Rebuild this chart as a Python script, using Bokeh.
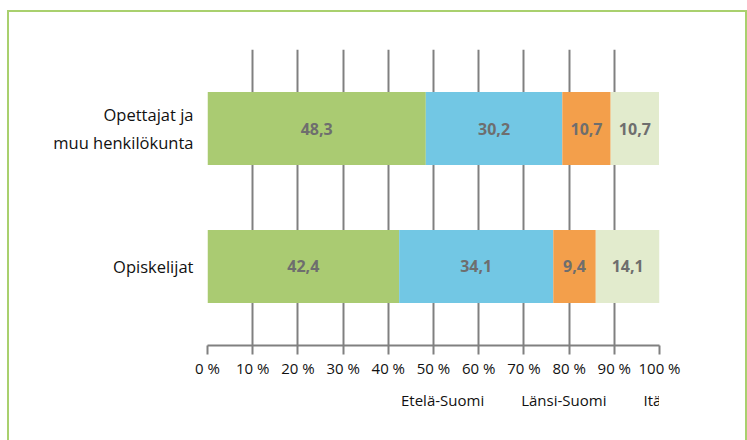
from bokeh.plotting import figure
from bokeh.layouts import column
from bokeh.models import ColumnDataSource, FactorRange, Range1d, Legend, LegendItem, FixedTicker
from bokeh.core.properties import value
from bokeh.embed import file_html
from bokeh.resources import INLINE

categories = ["Opiskelijat", "Opettajat ja\nmuu henkilökunta"]
regions = ["Etelä-Suomi", "Länsi-Suomi", "Itä-Suomi", "Pohjois-Suomi"]
etela = [42.4, 48.3]
lansi = [34.1, 30.2]
ita = [9.4, 10.7]
pohjois = [14.1, 10.7]
colors = ["#aacb72", "#72c7e4", "#f39f4b", "#e2ebcd"]
ticks = [0, 10, 20, 30, 40, 50, 60, 70, 80, 90, 100]
tick_labels = ["0 %", "10 %", "20 %", "30 %", "40 %", "50 %", "60 %", "70 %", "80 %", "90 %", "100 %"]

FONT = "Open Sans"
series = [etela, lansi, ita, pohjois]

data = {"cat": categories}
for r, s in zip(regions, series):
    data[r] = s
source = ColumnDataSource(data)

p = figure(
    width=736, height=368,
    y_range=FactorRange(*categories, range_padding=0.0725, range_padding_units="absolute", factor_padding=0),
    x_range=Range1d(0, 100),
    output_backend="svg", toolbar_location=None,
    min_border_left=198, min_border_right=86, min_border_top=37, min_border_bottom=35,
)

p.hbar_stack(regions, y="cat", height=0.53, color=colors, source=source, line_width=0)

# value labels at segment centers
lab_x, lab_y, lab_t = [], [], []
for i, cat in enumerate(categories):
    cum = 0.0
    for s in series:
        v = s[i]
        lab_x.append(cum + v / 2)
        lab_y.append(cat)
        lab_t.append(f"{v:.1f}".replace(".", ","))
        cum += v
p.text(x=lab_x, y=lab_y, text=lab_t, text_align="center", text_baseline="middle",
       text_font=value(FONT), text_font_style="bold", text_font_size="16px", text_color="#6e6e6e")

p.outline_line_color = None
p.ygrid.grid_line_color = None
p.xgrid.grid_line_color = "#808080"
p.xgrid.grid_line_width = 2
p.xgrid.ticker = FixedTicker(ticks=ticks)
p.xgrid.level = "underlay"

xa = p.xaxis[0]
xa.ticker = FixedTicker(ticks=ticks)
xa.major_label_overrides = {t: l for t, l in zip(ticks, tick_labels)}
xa.axis_line_color = "#808080"
xa.axis_line_width = 2
xa.major_tick_line_color = "#808080"
xa.major_tick_line_width = 2
xa.major_tick_out = 9
xa.major_tick_in = 0
xa.minor_tick_line_color = None
xa.major_label_text_font = FONT
xa.major_label_text_font_size = "15px"
xa.major_label_text_color = "#111111"
xa.major_label_standoff = 3

ya = p.yaxis[0]
ya.axis_line_color = None
ya.major_tick_line_color = None
ya.minor_tick_line_color = None
ya.major_tick_out = 0
ya.major_label_standoff = 14
ya.major_label_text_font = FONT
ya.major_label_text_font_size = "16.5px"
ya.major_label_text_color = "#111111"
ya.major_label_text_align = "right"

# legend-only strip below the chart
p2 = figure(
    width=736, height=60, x_range=Range1d(0, 1), y_range=Range1d(0, 1),
    x_axis_type=None, y_axis_type=None,
    output_backend="svg", toolbar_location=None, min_border=0,
)
p2.outline_line_color = None
legend_renderers = []
for c in colors:
    legend_renderers.append(p2.hbar(y=[], right=[], height=0.5, color=c, line_width=0))

legend = Legend(
    items=[LegendItem(label=r, renderers=[rr]) for r, rr in zip(regions, legend_renderers)],
    orientation="horizontal", location=(175, 30),
    label_text_font=FONT, label_text_font_size="15px", label_text_color="#111111",
    glyph_width=13, glyph_height=13, label_standoff=6, spacing=18,
    padding=0, margin=0, border_line_color=None, background_fill_alpha=0,
)
p2.add_layout(legend)

layout = column(p, p2, spacing=0)
layout.styles = {
    "border-top": "2px solid #a9d06e",
    "border-left": "2px solid #a9d06e",
    "border-right": "2px solid #a9d06e",
    "margin-left": "7px",
    "margin-top": "10px",
}

open("out.html", "w").write(file_html(layout, INLINE))
